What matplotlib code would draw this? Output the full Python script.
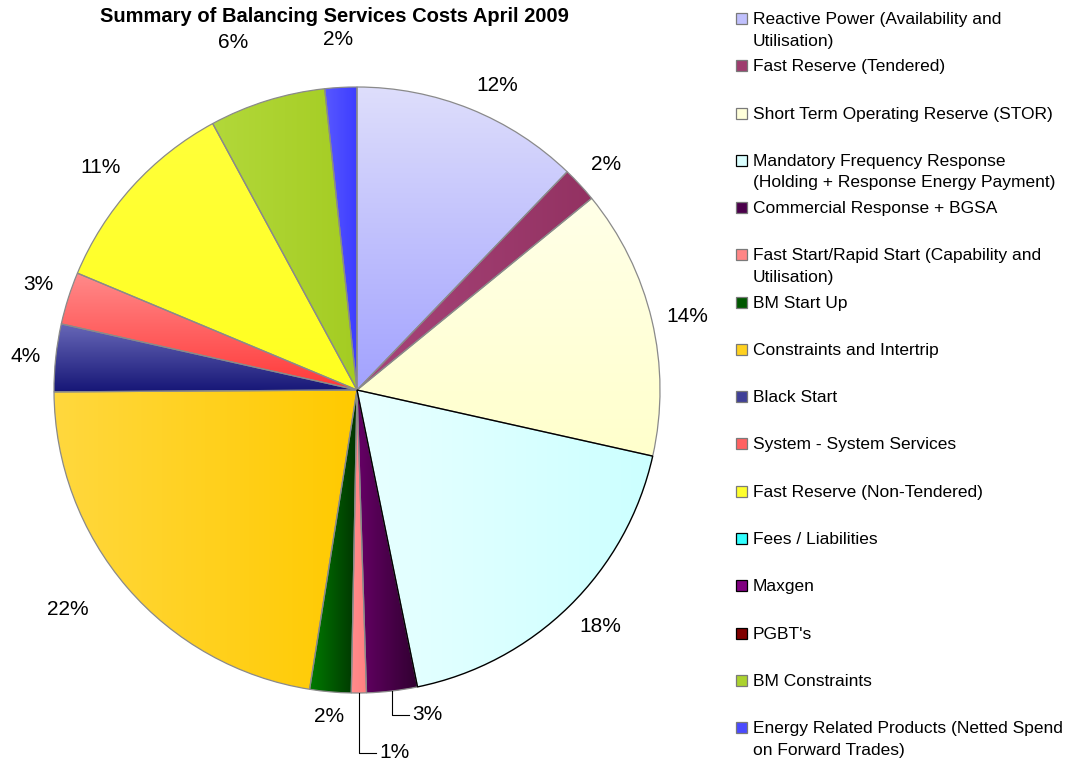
import numpy as np
import matplotlib
matplotlib.use("Agg")
import matplotlib.pyplot as plt
from matplotlib.patches import Rectangle
from matplotlib.colors import to_rgb

# ---------------- data ----------------
title = "Summary of Balancing Services Costs April 2009"
categories = [
    "Reactive Power (Availability and\nUtilisation)",
    "Fast Reserve (Tendered)",
    "Short Term Operating Reserve (STOR)",
    "Mandatory Frequency Response\n(Holding + Response Energy Payment)",
    "Commercial Response + BGSA",
    "Fast Start/Rapid Start (Capability and\nUtilisation)",
    "BM Start Up",
    "Constraints and Intertrip",
    "Black Start",
    "System - System Services",
    "Fast Reserve (Non-Tendered)",
    "Fees / Liabilities",
    "Maxgen",
    "PGBT's",
    "BM Constraints",
    "Energy Related Products (Netted Spend\non Forward Trades)",
]
shares = [12.2, 1.9, 14.4, 18.3, 2.7, 0.8, 2.2, 22.4, 3.6, 2.8, 10.8, 0.0, 0.0, 0.0, 6.2, 1.7]

# ---------------- styles ----------------
grad_start = ["#DEDEFB", "#A8457A", "#FFFFE8", "#E8FFFF", "#660066", "#FF8C8C", "#007A00",
              "#FFD83E", "#6868B8", "#FF8A8A", "#FFFF3A", "#33FFFF", "#800080", "#800000",
              "#B2D83A", "#5858FF"]
grad_end = ["#A2A2FF", "#933262", "#FFFFCC", "#CCFFFF", "#300030", "#FF8080", "#003300",
            "#FFCA00", "#161676", "#FF3838", "#FFFF20", "#33FFFF", "#800080", "#800000",
            "#A4CC22", "#3C3CFF"]
grad_dir = ["v", "h", "v", "h", "h", "h", "h", "h", "v", "v", "v", "h", "h", "h", "h", "h"]
edge_cols = ["#8a8a8a", "#8a8a8a", "#8a8a8a", "#000000", "#8a8a8a", "#8a8a8a", "#8a8a8a",
             "#8a8a8a", "#8a8a8a", "#8a8a8a", "#8a8a8a", "#000000", "#000000", "#000000",
             "#8a8a8a", "#8a8a8a"]

FONT = "Liberation Sans"
W, H = 1080, 761
CX, CY, R = 357, 390, 303

fig = plt.figure(figsize=(W / 100, H / 100), dpi=100)
ax = fig.add_axes([0, 0, 1, 1])

idx = [i for i, v in enumerate(shares) if v > 0]
vals = [shares[i] for i in idx]
total = sum(vals)

wedges, _ = ax.pie(vals, startangle=-90, counterclock=True, center=(CX, CY), radius=R,
                   wedgeprops=dict(linewidth=0.9), frame=True)

for w, i in zip(wedges, idx):
    w.set_facecolor("none")
    w.set_edgecolor(edge_cols[i])
    w.set_zorder(4 if edge_cols[i] == "#000000" else 3)
    w.set_linewidth(1.0 if edge_cols[i] == "#000000" else 0.9)
    bb = w.get_path().get_extents()
    c0 = np.array(to_rgb(grad_start[i]))
    c1 = np.array(to_rgb(grad_end[i]))
    t = np.linspace(0, 1, 256)
    g = c0[None, :] * (1 - t[:, None]) + c1[None, :] * t[:, None]
    img = g[None, :, :] if grad_dir[i] == "h" else g[:, None, :]
    im = ax.imshow(img, extent=[bb.x0, bb.x1, bb.y1, bb.y0], origin="upper",
                   aspect="auto", interpolation="bilinear", zorder=2)
    im.set_clip_path(w)

# percentage labels
leader = {4: (24, 17), 5: (60, 17)}
nudge = {7: (-27, 3), 14: (-14, -34), 15: (-2, -23)}
for w, i in zip(wedges, idx):
    th = np.deg2rad((w.theta1 + w.theta2) / 2)
    dx, dy = np.cos(th), np.sin(th)
    pct = f"{round(100 * shares[i] / total):d}%"
    if i in leader:
        drop, run = leader[i]
        x0, y0 = CX + R * dx, CY + R * dy
        ax.plot([x0, x0, x0 + run], [y0, y0 + drop, y0 + drop], color="black", lw=0.8, zorder=5)
        ax.text(x0 + run + 3, y0 + drop, pct, ha="left", va="center", fontsize=15,
                family=FONT, zorder=5)
        continue
    rl = R * 1.05
    ox, oy = nudge.get(i, (0, 0))
    x, y = CX + rl * dx + ox, CY + rl * dy + oy
    ha = "left" if dx > 0.2 else ("right" if dx < -0.2 else "center")
    va = "bottom" if -dy > 0.25 else ("top" if -dy < -0.25 else "center")
    ax.text(x, y, pct, ha=ha, va=va, fontsize=15, family=FONT, zorder=5)

# legend
for k, name in enumerate(categories):
    y = 18.5 + k * 47.27
    c0 = np.array(to_rgb(grad_start[k]))
    c1 = np.array(to_rgb(grad_end[k]))
    ax.add_patch(Rectangle((736, y - 5.5), 11, 11, facecolor=(c0 + c1) / 2,
                           edgecolor=edge_cols[k] if edge_cols[k] == "#000000" else "#7a7a7a",
                           lw=0.9, zorder=5))
    ax.text(753, y - 6.5, name, ha="left", va="top", fontsize=12.5, family=FONT,
            linespacing=1.55, zorder=5)

ax.text(334, 17, title, ha="center", va="center", fontsize=14.5, fontweight="bold",
        family=FONT, zorder=5)

ax.set_xlim(0, W)
ax.set_ylim(H, 0)
ax.set_aspect("auto")
ax.axis("off")

fig.savefig("out.png", dpi=100, facecolor="white")
